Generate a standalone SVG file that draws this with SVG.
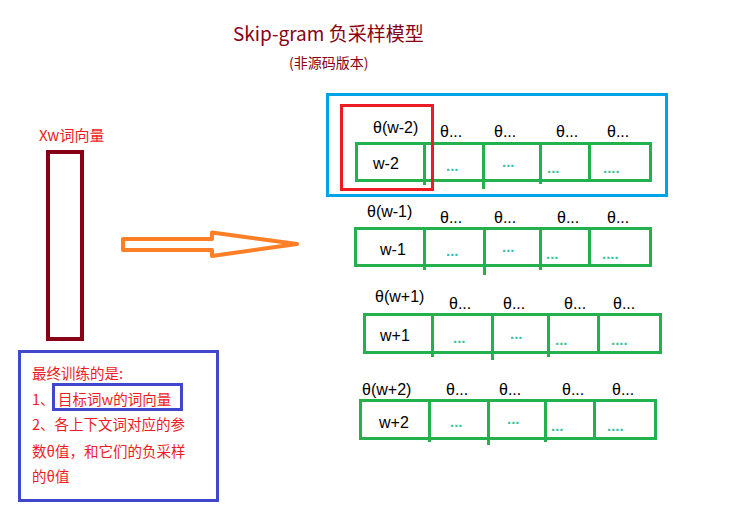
<svg xmlns="http://www.w3.org/2000/svg" width="744" height="531" viewBox="0 0 744 531">
<style>
.t{font-family:"Liberation Sans","Noto Sans CJK SC",sans-serif;font-size:16px;fill:#000}
.d{font-family:"Liberation Sans",sans-serif;font-size:15px;font-weight:bold;fill:#3CBFA0}
.g{fill:none;stroke:#22B14C;stroke-width:3}
.cj{font-family:"Noto Sans CJK SC","Liberation Sans",sans-serif}
.red{fill:#ED1C24}
</style>
<rect width="744" height="531" fill="#fff"/>
<g id="title">
<text x="233" y="41" class="cj" font-size="19" fill="#880015">Skip-gram 负采样模型</text>
<text x="289" y="68" class="cj" font-size="14" fill="#880015">(非源码版本)</text>
</g>
<g id="xw">
<text x="39" y="141" class="cj red" font-size="15">Xw词向量</text>
<rect x="48" y="152" width="34" height="187" fill="none" stroke="#880015" stroke-width="4"/>
</g>
<g id="connectors">
<polygon points="123,239 212,239 212,232.5 297,244 212,256 212,250 123,250" fill="none" stroke="#FF7F27" stroke-width="4" stroke-linejoin="round"/>
</g>
<g id="highlight">
<rect x="327.5" y="94.5" width="339" height="101" fill="none" stroke="#00A2E8" stroke-width="3"/>
</g>
<g id="row1">
<rect class="g" x="356.5" y="143.5" width="294" height="37"/>
<path class="g" d="M424.5 143V185M483.5 143V189M540.5 143V184M589.5 143V181"/>
<text class="t" x="373" y="133">θ(w-2)</text>
<text class="t" x="440" y="137">θ...</text>
<text class="t" x="494" y="137">θ...</text>
<text class="t" x="556" y="137">θ...</text>
<text class="t" x="607" y="137">θ...</text>
<text class="t" x="373" y="169">w-2</text>
<text class="d" x="446" y="171">...</text>
<text class="d" x="502" y="167">...</text>
<text class="d" x="547" y="173">...</text>
<text class="d" x="603" y="173">....</text>
</g>
<g id="target">
<rect x="341.5" y="105.5" width="91" height="84" fill="none" stroke="#ED1C24" stroke-width="3"/>
</g>
<g id="row2">
<rect class="g" x="355.5" y="228.5" width="295" height="37"/>
<path class="g" d="M424.5 228V270M484.5 228V275M540.5 228V270M589.5 228V266"/>
<text class="t" x="367" y="217">θ(w-1)</text>
<text class="t" x="440" y="223">θ...</text>
<text class="t" x="494" y="223">θ...</text>
<text class="t" x="557" y="223">θ...</text>
<text class="t" x="607" y="223">θ...</text>
<text class="t" x="380" y="255">w-1</text>
<text class="d" x="446" y="256">...</text>
<text class="d" x="502" y="252">...</text>
<text class="d" x="546" y="259">...</text>
<text class="d" x="602" y="259">....</text>
</g>
<g id="row3">
<rect class="g" x="364.5" y="314.5" width="296" height="38"/>
<path class="g" d="M432.5 314V357M492.5 314V360M548.5 314V357M598.5 314V353"/>
<text class="t" x="375" y="302">θ(w+1)</text>
<text class="t" x="449" y="309">θ...</text>
<text class="t" x="503" y="309">θ...</text>
<text class="t" x="564" y="309">θ...</text>
<text class="t" x="613" y="309">θ...</text>
<text class="t" x="380" y="341">w+1</text>
<text class="d" x="453" y="343">...</text>
<text class="d" x="510" y="339">...</text>
<text class="d" x="555" y="345">...</text>
<text class="d" x="611" y="345">....</text>
</g>
<g id="row4">
<rect class="g" x="360.5" y="400.5" width="295" height="38"/>
<path class="g" d="M429.5 400V442M488.5 400V445M545.5 400V442M594.5 400V439"/>
<text class="t" x="362" y="395">θ(w+2)</text>
<text class="t" x="446" y="395">θ...</text>
<text class="t" x="499" y="395">θ...</text>
<text class="t" x="562" y="395">θ...</text>
<text class="t" x="612" y="395">θ...</text>
<text class="t" x="379" y="428">w+2</text>
<text class="d" x="450" y="427">...</text>
<text class="d" x="507" y="424">...</text>
<text class="d" x="551" y="431">...</text>
<text class="d" x="607" y="431">....</text>
</g>
<g id="note">
<rect x="19.5" y="351.5" width="198" height="149" fill="none" stroke="#3F48CC" stroke-width="3"/>
<rect x="53.5" y="384.5" width="128" height="25" fill="none" stroke="#3F48CC" stroke-width="3"/>
<g class="cj red" font-size="14.5">
<text x="32" y="379">最终训练的是:</text>
<text x="32" y="405">1、<tspan x="58">目标词w的词向量</tspan></text>
<text x="32" y="430">2、各上下文词对应的参</text>
<text x="32" y="457">数θ值，和它们的负采样</text>
<text x="32" y="482">的θ值</text>
</g>
</g>
</svg>
